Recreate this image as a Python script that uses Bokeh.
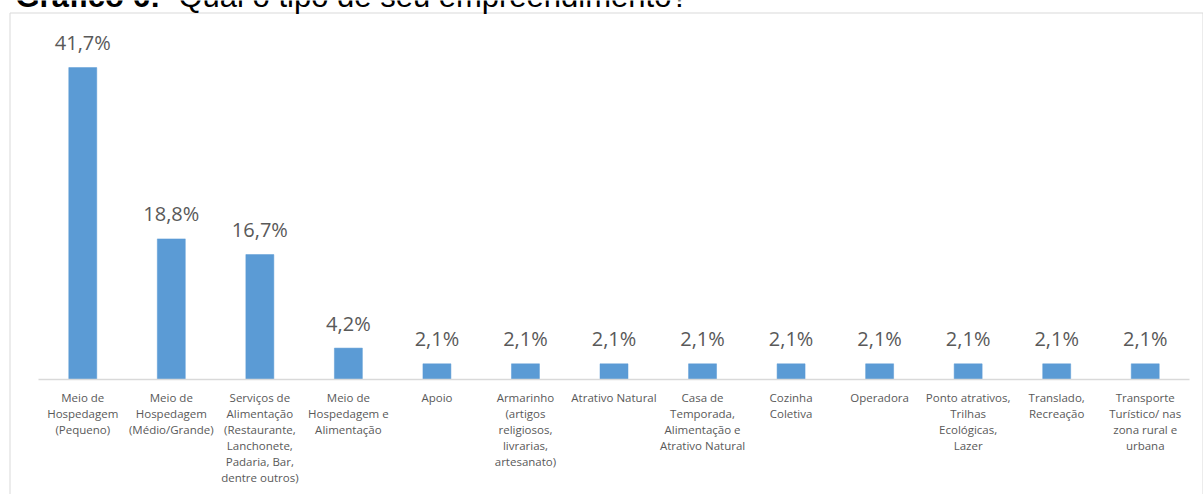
from bokeh.plotting import figure
from bokeh.models import Range1d, ColumnDataSource
from bokeh.core.properties import value
from bokeh.embed import file_html
from bokeh.resources import INLINE

# ---- data ----
categories = [
    "Meio de\nHospedagem\n(Pequeno)",
    "Meio de\nHospedagem\n(Médio/Grande)",
    "Serviços de\nAlimentação\n(Restaurante,\nLanchonete,\nPadaria, Bar,\ndentre outros)",
    "Meio de\nHospedagem e\nAlimentação",
    "Apoio",
    "Armarinho\n(artigos\nreligiosos,\nlivrarias,\nartesanato)",
    "Atrativo Natural",
    "Casa de\nTemporada,\nAlimentação e\nAtrativo Natural",
    "Cozinha\nColetiva",
    "Operadora",
    "Ponto atrativos,\nTrilhas\nEcológicas,\nLazer",
    "Translado,\nRecreação",
    "Transporte\nTurístico/ nas\nzona rural e\nurbana",
]
percentages = [41.7, 18.8, 16.7, 4.2, 2.1, 2.1, 2.1, 2.1, 2.1, 2.1, 2.1, 2.1, 2.1]
value_labels = ["41,7%", "18,8%", "16,7%", "4,2%", "2,1%", "2,1%", "2,1%", "2,1%",
                "2,1%", "2,1%", "2,1%", "2,1%", "2,1%"]
title_bold = "Gráfico 6:"
title_rest = "Qual o tipo de seu empreendimento?"

# ---- layout helpers (pixel -> data) ----
W, H = 1203, 494
PX_PER_CAT = (1189 - 38) / 13.0
X_CAT0 = 38 + 0.5 * PX_PER_CAT
PX_PER_PCT = 7.48
Y_BASE = 379


def dx(px):
    return (px - X_CAT0) / PX_PER_CAT


def dy(py):
    return (Y_BASE - py) / PX_PER_PCT


idx = list(range(len(categories)))
src = ColumnDataSource(dict(x=idx, top=percentages, lab=value_labels, cat=categories,
                            cat_y=[dy(389)] * len(idx)))

p = figure(width=W, height=H, output_backend="svg", toolbar_location=None,
           x_range=Range1d(dx(0), dx(W)), y_range=Range1d(dy(H), dy(0)),
           x_axis_type=None, y_axis_type=None,
           min_border_left=0, min_border_right=0, min_border_top=0, min_border_bottom=0)
p.outline_line_color = None
p.grid.visible = False
p.background_fill_color = "white"
p.border_fill_color = "white"

# chart area border (left, top, right)
p.segment(x0=[dx(9.5), dx(9.5), dx(1202.5)], y0=[dy(12.5), dy(12.5), dy(12.5)],
          x1=[dx(9.5), dx(1202.5), dx(1202.5)], y1=[dy(H), dy(12.5), dy(H)],
          line_color="#D9D9D9", line_width=1)

# bars
p.vbar(x="x", top="top", bottom=0, width=0.316, source=src,
       fill_color="#5B9BD5", line_color="#5B9BD5", line_width=0.5)

# category axis line
p.segment(x0=[-0.5], y0=[0], x1=[len(idx) - 0.5], y1=[0],
          line_color="#D9D9D9", line_width=1.6)

# value labels
p.text(x="x", y="top", text="lab", source=src, text_align="center",
       text_baseline="alphabetic", y_offset=-25,
       text_font=value("Open Sans"), text_font_size="20px", text_color="#595959")

# category labels
p.text(x="x", y="cat_y", text="cat", source=src, text_align="center",
       text_baseline="top", text_line_height=1.07,
       text_font=value("Open Sans"), text_font_size="11.5px", text_color="#595959")

# title (partially cut at top, as in the reference)
p.text(x=[dx(15)], y=[dy(-4)], text=[title_bold], text_align="left",
       text_baseline="alphabetic", text_font=value("Liberation Sans"),
       text_font_style="bold", text_font_size="31px", text_color="black")
p.text(x=[dx(178)], y=[dy(-4)], text=[title_rest], text_align="left",
       text_baseline="alphabetic", text_font=value("Liberation Sans"),
       text_font_size="31px", text_color="black")

open("out.html", "w").write(file_html(p, INLINE))
